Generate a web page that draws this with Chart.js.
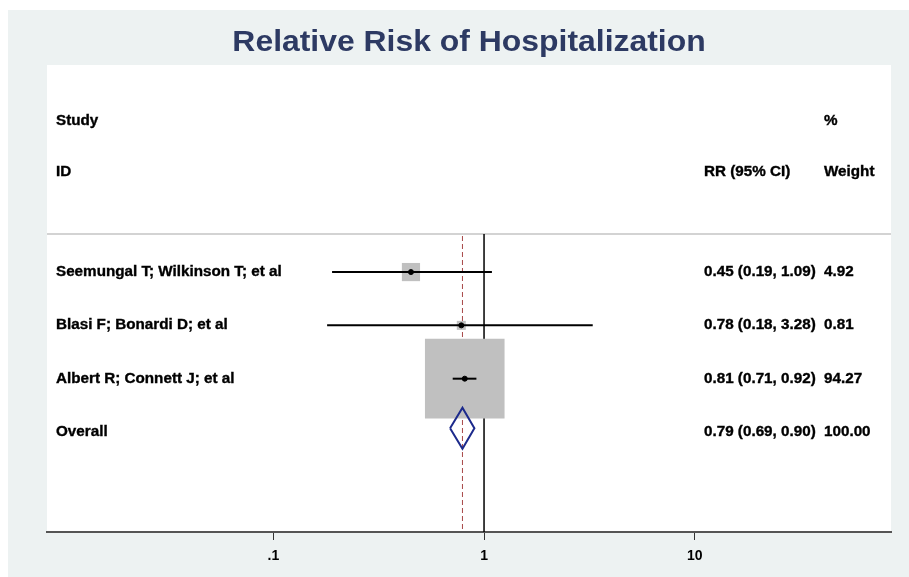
<!DOCTYPE html>
<html>
<head>
    <title>Relative Risk of Hospitalization</title>
    <script src="https://cdn.jsdelivr.net/npm/chart.js"></script>
    <style>
        body { margin: 0; background: #fff; }
        #forest { display: block; }
    </style>
</head>
<body>

<canvas id="forest" width="909" height="577"></canvas>

<script>
    // study rows
    const studies = ["Seemungal T; Wilkinson T; et al", "Blasi F; Bonardi D; et al", "Albert R; Connett J; et al"];
    const rr = [0.45, 0.78, 0.81];
    const lower = [0.19, 0.18, 0.71];
    const upper = [1.09, 3.28, 0.92];
    const weights = [4.92, 0.81, 94.27];

    // pooled estimate
    const overallLabel = "Overall";
    const overallRR = 0.79;
    const overallLower = 0.69;
    const overallUpper = 0.90;
    const overallWeight = 100.00;

    // x axis
    const tickValues = [0.1, 1, 10];
    const tickLabels = [".1", "1", "10"];

    const titleText = "Relative Risk of Hospitalization";

    const rows = studies.map((s, i) => i + 1);
    const overallRow = studies.length + 1;

    const textFont = 'bold 14.5px "Liberation Sans", Arial, sans-serif';
    const grey = '#edf2f2';

    // box side grows with sqrt of weight (area ~ weight)
    const boxRadius = weights.map(w => Math.max(9, 8.2 * Math.sqrt(w)) / (2 * Math.SQRT1_2));

    const ciSets = studies.map((s, i) => ({
        type: 'line',
        data: [{ x: lower[i], y: rows[i] }, { x: upper[i], y: rows[i] }],
        borderColor: '#000',
        borderWidth: 2,
        pointRadius: 0,
        order: 2
    }));

    const dh = 0.385;
    const dy = overallRow - 0.07;
    const diamond = {
        type: 'line',
        data: [
            { x: overallLower, y: dy },
            { x: overallRR, y: dy - dh },
            { x: overallUpper, y: dy },
            { x: overallRR, y: dy + dh },
            { x: overallLower, y: dy }
        ],
        borderColor: '#1c2a8c',
        borderWidth: 2,
        pointRadius: 0,
        fill: false,
        tension: 0,
        order: 1
    };

    const background = {
        id: 'background',
        beforeDraw(chart) {
            const { ctx, chartArea: a } = chart;
            ctx.save();
            ctx.fillStyle = '#fff';
            ctx.fillRect(0, 0, chart.width, chart.height);
            ctx.fillStyle = grey;
            ctx.fillRect(8, 10, chart.width - 8, chart.height - 10);
            ctx.fillStyle = '#fff';
            ctx.fillRect(a.left, a.top, a.right - a.left, a.bottom - a.top);

            // title, slightly widened like the original
            ctx.fillStyle = '#2d3a63';
            ctx.font = 'bold 29px "Liberation Sans", Arial, sans-serif';
            ctx.textAlign = 'center';
            ctx.textBaseline = 'middle';
            ctx.translate((a.left + a.right) / 2, 43);
            ctx.scale(1.1, 1);
            ctx.fillText(titleText, 0, 0);
            ctx.restore();
        },
        beforeDatasetsDraw(chart) {
            const { ctx, chartArea: a, scales: { x } } = chart;
            const sepY = a.top + 169;
            ctx.save();
            // header separator
            ctx.strokeStyle = '#c4c4c4';
            ctx.lineWidth = 1.5;
            ctx.beginPath();
            ctx.moveTo(a.left, sepY);
            ctx.lineTo(a.right, sepY);
            ctx.stroke();
            // null line
            ctx.strokeStyle = '#000';
            ctx.lineWidth = 1.5;
            ctx.beginPath();
            ctx.moveTo(x.getPixelForValue(1), sepY);
            ctx.lineTo(x.getPixelForValue(1), a.bottom);
            ctx.stroke();
            // overall effect line
            ctx.strokeStyle = '#a84848';
            ctx.lineWidth = 1;
            ctx.setLineDash([5, 3]);
            ctx.beginPath();
            ctx.moveTo(x.getPixelForValue(overallRR), sepY + 2);
            ctx.lineTo(x.getPixelForValue(overallRR), a.bottom);
            ctx.stroke();
            ctx.restore();
        }
    };

    // bold text, a bit wider and heavier like the Stata output
    function putText(ctx, s, x, y) {
        ctx.save();
        ctx.translate(x, y);
        ctx.scale(1.05, 1);
        ctx.fillText(s, 0, 0);
        ctx.strokeText(s, 0, 0);
        ctx.restore();
    }

    const forestText = {
        id: 'forestText',
        afterDraw(chart) {
            const { ctx, chartArea: a, scales: { y } } = chart;
            const colStudy = a.left + 9, colRR = a.left + 657, colW = a.left + 777;
            ctx.save();
            ctx.font = textFont;
            ctx.fillStyle = '#000';
            ctx.strokeStyle = '#000';
            ctx.lineWidth = 0.35;
            ctx.textBaseline = 'middle';
            ctx.textAlign = 'left';

            putText(ctx, "Study", colStudy, a.top + 56);
            putText(ctx, "%", colW, a.top + 56);
            putText(ctx, "ID", colStudy, a.top + 107);
            putText(ctx, "RR (95% CI)", colRR, a.top + 107);
            putText(ctx, "Weight", colW, a.top + 107);

            studies.forEach((s, i) => {
                const py = y.getPixelForValue(rows[i]);
                putText(ctx, s, colStudy, py);
                putText(ctx, rr[i].toFixed(2) + " (" + lower[i].toFixed(2) + ", " + upper[i].toFixed(2) + ")", colRR, py);
                putText(ctx, weights[i].toFixed(2), colW, py);
            });
            const po = y.getPixelForValue(overallRow);
            putText(ctx, overallLabel, colStudy, po);
            putText(ctx, overallRR.toFixed(2) + " (" + overallLower.toFixed(2) + ", " + overallUpper.toFixed(2) + ")", colRR, po);
            putText(ctx, overallWeight.toFixed(2), colW, po);
            ctx.restore();
        }
    };

    new Chart(document.getElementById('forest'), {
        type: 'scatter',
        data: {
            datasets: [
                {
                    label: 'Estimate',
                    data: rr.map((v, i) => ({ x: v, y: rows[i] })),
                    pointStyle: 'circle',
                    pointRadius: 2.5,
                    backgroundColor: '#000',
                    borderColor: '#000',
                    order: 0
                },
                diamond,
                ...ciSets,
                {
                    label: 'Weight',
                    data: rr.map((v, i) => ({ x: v, y: rows[i] })),
                    pointStyle: 'rect',
                    pointRadius: boxRadius,
                    backgroundColor: '#c0c0c0',
                    borderWidth: 0,
                    order: 3
                }
            ]
        },
        options: {
            responsive: false,
            animation: false,
            layout: { autoPadding: false, padding: { left: 47, right: 18, top: 65, bottom: 0 } },
            plugins: {
                legend: { display: false },
                tooltip: { enabled: false },
                title: { display: false }
            },
            scales: {
                x: {
                    type: 'logarithmic',
                    min: 0.00843,
                    max: 85.4,
                    afterBuildTicks: scale => { scale.ticks = tickValues.map(v => ({ value: v })); },
                    afterFit: scale => { scale.height = 45; },
                    ticks: {
                        color: '#000',
                        font: { family: '"Liberation Sans", Arial, sans-serif', size: 14, weight: 'bold' },
                        padding: 8,
                        maxRotation: 0,
                        callback: v => tickLabels[tickValues.indexOf(v)]
                    },
                    grid: { drawOnChartArea: false, drawTicks: true, tickLength: 8, color: '#333', lineWidth: 1 },
                    border: { display: true, color: '#555', width: 2 }
                },
                y: {
                    display: false,
                    reverse: true,
                    min: -2.884,
                    max: 5.876
                }
            }
        },
        plugins: [background, forestText]
    });
</script>

</body>
</html>
